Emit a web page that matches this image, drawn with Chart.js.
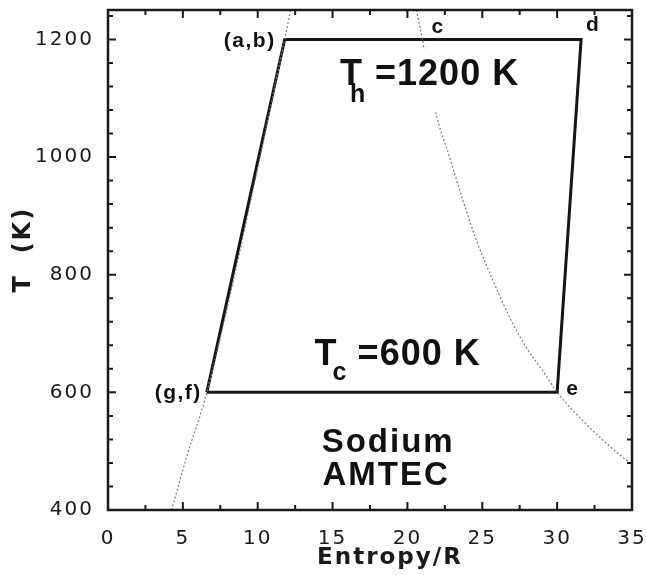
<!DOCTYPE html>
<html>
<head>
<meta charset="utf-8">
<script src="https://cdn.jsdelivr.net/npm/chart.js@4"></script>
<style>
  html, body { margin: 0; padding: 0; background: #fff; }
  #wrap { width: 646px; height: 575px; }
</style>
</head>
<body>
<div id="wrap"><canvas id="tsChart" width="646" height="575"></canvas></div>
<script>
// axis ticks
const xTicks = [0, 5, 10, 15, 20, 25, 30, 35];
const yTicks = [400, 600, 800, 1000, 1200];

// AMTEC cycle corners: g -> a -> d -> e -> g
const cycleS = [6.6, 11.8, 31.6, 30.0, 6.6];
const cycleT = [600, 1200, 1200, 600, 600];

// saturated liquid curve (left, dotted)
const liqS = [4.25, 5.25, 6.6, 11.8, 12.2];
const liqT = [400, 490, 600, 1200, 1250];

// saturated vapour curve (right, dotted)
const vapS = [20.6, 21.0, 21.9, 22.8, 23.7, 24.6, 25.7, 26.8, 27.9, 29.0, 30.0, 32.1, 34.6, 35.0];
const vapT = [1250, 1200, 1075, 1001, 927, 859, 791, 729, 678, 638, 600, 542, 485, 478];

const toPts = (xs, ys) => xs.map((x, i) => ({ x: x, y: ys[i] }));

/* ---------- frame, inward ticks and text labels ---------- */
const frameTicks = {
  id: 'frameTicks',
  beforeDraw(chart) {
    const ctx = chart.ctx;
    ctx.save();
    ctx.fillStyle = '#fff';
    ctx.fillRect(0, 0, chart.width, chart.height);
    ctx.restore();
    // wide spacing for the axis text (ticks + titles)
    ctx.letterSpacing = '2px';
  },
  beforeDatasetsDraw(chart) {
    chart.ctx.letterSpacing = '0px';
  },
  afterDatasetsDraw(chart) {
    const ctx = chart.ctx;
    const { left, right, top, bottom } = chart.chartArea;
    const xs = chart.scales.x, ys = chart.scales.y;

    ctx.save();
    ctx.strokeStyle = '#1a1a1a';
    ctx.lineWidth = 2;

    // inward ticks on all four sides
    ctx.beginPath();
    for (let v = 0; v <= 35; v += 2.5) {
      const px = xs.getPixelForValue(v);
      const len = v % 5 === 0 ? 8 : 5;
      ctx.moveTo(px, bottom); ctx.lineTo(px, bottom - len);
      ctx.moveTo(px, top); ctx.lineTo(px, top + len);
    }
    for (let v = 400; v <= 1240; v += 40) {
      const py = ys.getPixelForValue(v);
      const len = (v - 400) % 200 === 0 ? 8 : 5;
      ctx.moveTo(left, py); ctx.lineTo(left + len, py);
      ctx.moveTo(right, py); ctx.lineTo(right - len, py);
    }
    ctx.stroke();

    ctx.lineWidth = 2.5;
    ctx.strokeRect(left, top, right - left, bottom - top);

    const P = (s, t) => [xs.getPixelForValue(s), ys.getPixelForValue(t)];
    ctx.fillStyle = '#111';
    ctx.textBaseline = 'alphabetic';

    // small point labels
    ctx.font = 'bold 21px "Liberation Sans", Arial, sans-serif';
    ctx.letterSpacing = '1.5px';
    let [px, py] = P(cycleS[1], cycleT[1]);
    ctx.textAlign = 'right';
    ctx.fillText('(a,b)', px - 9, py + 8);
    [px, py] = P(cycleS[0], cycleT[0]);
    ctx.fillText('(g,f)', px - 5, py + 7);
    ctx.textAlign = 'left';
    [px, py] = P(vapS[1], vapT[1]);
    ctx.fillText('c', px + 9, py - 6);
    [px, py] = P(cycleS[2], cycleT[2]);
    ctx.fillText('d', px + 5, py - 8);
    [px, py] = P(cycleS[3], cycleT[3]);
    ctx.fillText('e', px + 9, py + 3);

    // Th label, with a white patch hiding the curve behind it
    [px, py] = P(15.5, 1122);
    ctx.letterSpacing = '1px';
    ctx.fillStyle = '#fff';
    ctx.fillRect(px - 4, py - 36, 186, 63);
    ctx.fillStyle = '#111';
    ctx.font = 'bold 36px "Liberation Sans", Arial, sans-serif';
    ctx.fillText('T', px, py);
    ctx.fillText('=1200 K', px + 35, py);
    ctx.font = 'bold 25px "Liberation Sans", Arial, sans-serif';
    ctx.fillText('h', px + 10, py + 17);

    // Tc label
    [px, py] = P(13.8, 647);
    ctx.font = 'bold 36px "Liberation Sans", Arial, sans-serif';
    ctx.fillText('T', px, py);
    ctx.fillText('=600 K', px + 43, py);
    ctx.font = 'bold 25px "Liberation Sans", Arial, sans-serif';
    ctx.fillText('c', px + 18, py + 15);

    // fluid name
    ctx.font = 'bold 33px "Liberation Sans", Arial, sans-serif';
    ctx.letterSpacing = '2px';
    [px, py] = P(14.27, 499);
    ctx.fillText('Sodium', px, py);
    [px, py] = P(14.33, 443);
    ctx.fillText('AMTEC', px, py);

    ctx.restore();
  }
};

const noPad = (s) => {
  s.paddingLeft = 0; s.paddingRight = 0;
  s.paddingTop = 0; s.paddingBottom = 0;
};

new Chart(document.getElementById('tsChart'), {
  type: 'scatter',
  data: {
    datasets: [
      {
        label: 'saturated liquid',
        data: toPts(liqS, liqT),
        showLine: true,
        borderColor: '#777',
        borderWidth: 1.2,
        borderDash: [2, 2],
        cubicInterpolationMode: 'monotone',
        pointRadius: 0
      },
      {
        label: 'saturated vapour',
        data: toPts(vapS, vapT),
        showLine: true,
        borderColor: '#777',
        borderWidth: 1.2,
        borderDash: [2, 2],
        cubicInterpolationMode: 'monotone',
        pointRadius: 0
      },
      {
        label: 'cycle',
        data: toPts(cycleS, cycleT),
        showLine: true,
        borderColor: '#151515',
        borderWidth: 3,
        pointRadius: 0
      }
    ]
  },
  options: {
    responsive: false,
    animation: false,
    layout: { padding: { left: 0, right: 14, top: 10, bottom: 0 } },
    plugins: {
      legend: { display: false },
      tooltip: { enabled: false }
    },
    scales: {
      x: {
        type: 'linear',
        min: 0,
        max: 35,
        grid: { display: false, drawTicks: false },
        border: { display: false },
        afterBuildTicks: (s) => { s.ticks = xTicks.map(v => ({ value: v })); },
        afterFit: (s) => { s.height = 65; noPad(s); },
        ticks: {
          padding: 17,
          color: '#1a1a1a',
          callback: (v) => String(v),
          font: { family: '"DejaVu Sans", sans-serif', size: 20 }
        },
        title: {
          display: true,
          text: '    Entropy/R',
          color: '#1a1a1a',
          padding: { top: 4, bottom: 3 },
          font: { family: '"DejaVu Sans", sans-serif', size: 23, weight: 'bold' }
        }
      },
      y: {
        type: 'linear',
        min: 400,
        max: 1250,
        grid: { display: false, drawTicks: false },
        border: { display: false },
        afterBuildTicks: (s) => { s.ticks = yTicks.map(v => ({ value: v })); },
        afterFit: (s) => { s.width = 108; noPad(s); },
        ticks: {
          padding: 14,
          color: '#1a1a1a',
          callback: (v) => String(v),
          font: { family: '"DejaVu Sans", sans-serif', size: 20 }
        },
        title: {
          display: true,
          text: '  T  (K)',
          color: '#1a1a1a',
          padding: { top: 9, bottom: 4 },
          font: { family: '"DejaVu Sans", sans-serif', size: 24, weight: 'bold' }
        }
      }
    }
  },
  plugins: [frameTicks]
});
</script>
</body>
</html>
